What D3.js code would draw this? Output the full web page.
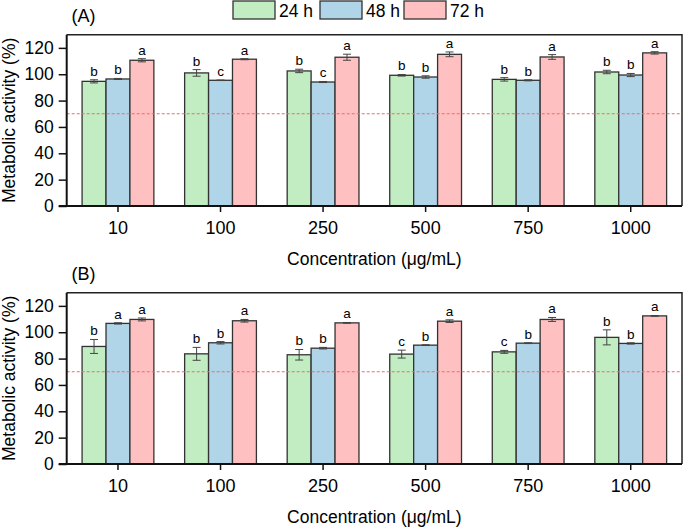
<!DOCTYPE html>
<html><head><meta charset="utf-8">
<script src="https://cdn.jsdelivr.net/npm/d3@7"></script>
<style>body{margin:0;background:#fff}svg{display:block}text{font-family:"Liberation Sans",Arial,sans-serif;fill:#000}</style>
</head><body><svg id="c" width="685" height="528"></svg>
<script>
const categories = ["10","100","250","500","750","1000"];
const seriesNames = ["24 h","48 h","72 h"];
const yTicks = [0,20,40,60,80,100,120];
const threshold = 70;

const meanA24 = [94.6,101.0,102.5,99.2,96.1,101.7];
const errA24  = [1.2,2.5,1.3,0.6,1.3,1.3];
const meanA48 = [96.4,95.4,94.1,97.9,95.4,99.4];
const errA48  = [0.4,0.2,0.4,0.9,0.4,1.2];
const meanA72 = [110.6,111.4,112.9,115.1,113.1,116.2];
const errA72  = [1.2,0.4,2.3,1.8,1.8,0.9];
const letA24 = ["b","b","b","b","b","b"];
const letA48 = ["b","c","c","b","b","b"];
const letA72 = ["a","a","a","a","a","a"];

const meanB24 = [89.2,83.6,82.9,83.4,85.1,96.1];
const errB24  = [5.3,4.9,4.0,3.0,1.1,5.7];
const meanB48 = [106.7,92.0,87.9,90.2,91.7,91.5];
const errB48  = [0.5,0.9,0.6,0.3,0.3,0.5];
const meanB72 = [109.7,108.7,107.1,108.4,109.7,112.4];
const errB72  = [1.1,1.0,0.3,1.0,1.5,0.3];
const letB24 = ["b","b","b","c","c","b"];
const letB48 = ["a","b","b","b","b","b"];
const letB72 = ["a","a","a","a","a","a"];

const colors = ["#c2ecc1","#b0d4e8","#ffc0c1"];
const svg = d3.select("#c");

function panel(label, offY, means, errs, lets){
  const top = 34.7+offY, bottom = 206+offY, left = 66.7, right = 682;
  const x = d3.scaleBand().domain(categories).range([left,right]).padding(0);
  const y = d3.scaleLinear().domain([0,130]).range([bottom,top]);
  const groupW = x.bandwidth()*0.7;
  const xs = d3.scaleBand().domain(seriesNames).range([0,groupW]).padding(0);
  const g = svg.append("g");

  g.append("path").attr("d",`M${left},${top}H${right}V${bottom}`).attr("fill","none").attr("stroke","#222").attr("stroke-width",1.5);

  seriesNames.forEach((s,si)=>{
    categories.forEach((c,ci)=>{
      const bx = x(c)+(x.bandwidth()-groupW)/2+xs(s);
      const v = means[si][ci], e = errs[si][ci];
      g.append("rect").attr("x",bx).attr("y",y(v)).attr("width",xs.bandwidth()).attr("height",y(0)-y(v))
        .attr("fill",colors[si]).attr("stroke","#333").attr("stroke-width",1.3);
      const cx = bx+xs.bandwidth()/2;
      const eb = g.append("g").attr("stroke","#444").attr("stroke-width",1);
      eb.append("line").attr("x1",cx).attr("x2",cx).attr("y1",y(v+e)).attr("y2",y(v-e));
      eb.append("line").attr("x1",cx-4).attr("x2",cx+4).attr("y1",y(v+e)).attr("y2",y(v+e));
      eb.append("line").attr("x1",cx-4).attr("x2",cx+4).attr("y1",y(v-e)).attr("y2",y(v-e));
      g.append("text").attr("x",cx).attr("y",y(v+e)-4).attr("text-anchor","middle")
        .attr("font-size",13.5).text(lets[si][ci]);
    });
  });

  g.append("line").attr("x1",left).attr("x2",right).attr("y1",y(threshold)).attr("y2",y(threshold))
    .attr("stroke","#ef6b6b").attr("stroke-width",1.1).attr("stroke-dasharray","3,2");

  const ya = g.append("g").attr("transform",`translate(${left},0)`)
    .call(d3.axisLeft(y).tickValues(yTicks).tickSize(8).tickPadding(5));
  ya.select(".domain").attr("stroke","#111").attr("stroke-width",2).attr("d",`M0,${top}V${bottom}`);
  ya.selectAll(".tick line").attr("stroke","#111").attr("stroke-width",1.5);
  ya.selectAll(".tick text").attr("font-size",17.5).attr("fill","#000");
  const xa = g.append("g").attr("transform",`translate(0,${bottom})`)
    .call(d3.axisBottom(x).tickSize(6).tickPadding(9));
  xa.select(".domain").attr("stroke","#111").attr("stroke-width",2).attr("d",`M${left-8},0H${right}`);
  xa.selectAll(".tick line").attr("stroke","#111").attr("stroke-width",1.5);
  xa.selectAll(".tick text").attr("font-size",18).attr("fill","#000");

  g.append("text").attr("x",(left+right)/2).attr("y",264.7+offY).attr("text-anchor","middle")
    .attr("font-size",17.5).text("Concentration (μg/mL)");
  g.append("text").attr("transform",`translate(14.5,${(top+bottom)/2}) rotate(-90)`).attr("text-anchor","middle")
    .attr("font-size",17.5).text("Metabolic activity (%)");
  g.append("text").attr("x",71.5).attr("y",22+offY).attr("font-size",18).text(label);
}

panel("(A)",0,[meanA24,meanA48,meanA72],[errA24,errA48,errA72],[letA24,letA48,letA72]);
panel("(B)",258,[meanB24,meanB48,meanB72],[errB24,errB48,errB72],[letB24,letB48,letB72]);

const legX = [233,320,404];
seriesNames.forEach((s,i)=>{
  svg.append("rect").attr("x",legX[i]).attr("y",1).attr("width",42).attr("height",18)
    .attr("fill",colors[i]).attr("stroke","#333").attr("stroke-width",1.3);
  svg.append("text").attr("x",legX[i]+46).attr("y",17).attr("font-size",17.5).text(s);
});
</script></body></html>
